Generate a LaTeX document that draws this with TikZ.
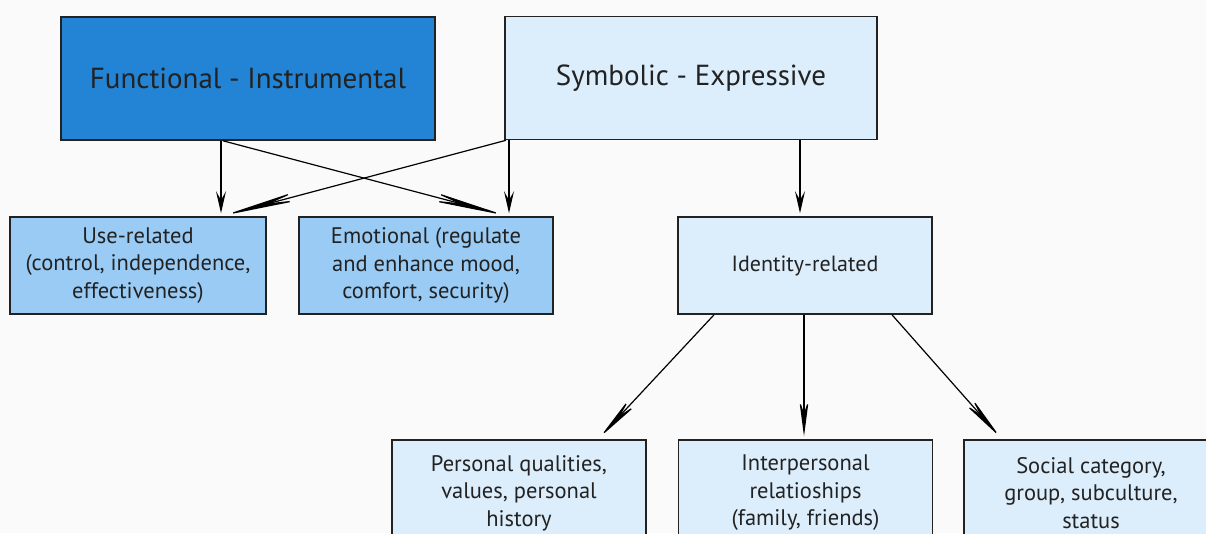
\documentclass[tikz,border=0pt]{standalone}
\usepackage{fontspec}
\setmainfont{PT Sans}
\usetikzlibrary{arrows.meta,positioning}

\definecolor{deepblue}{HTML}{2383D4}
\definecolor{midblue}{HTML}{99CBF4}
\definecolor{paleblue}{HTML}{DCEDFB}
\definecolor{edgegray}{HTML}{222222}
\definecolor{paper}{HTML}{FAFAFA}

\tikzset{
    box/.style={draw=edgegray,line width=1.6pt,align=center,inner sep=0pt,text=edgegray},
    bigbox/.style={box,minimum width=374pt,minimum height=123pt,font=\fontsize{29}{34}\selectfont},
    smallbox/.style={box,minimum width=254pt,minimum height=97pt,font=\fontsize{22.5}{27.5}\selectfont},
    arr/.style={-{Stealth[length=#1,width=10pt,inset=#1*0.4]},line width=1.2pt,shorten >=3pt}
}

\begin{document}
\begin{tikzpicture}[x=1pt,y=1pt]
    \clip (0,0) rectangle (1206,-533);
    \fill[paper] (0,0) rectangle (1206,-533);
    % top row
    \node[bigbox,fill=deepblue] (func) at (248,-78.5) {Functional - Instrumental};
    \node[bigbox,fill=paleblue,minimum width=372pt] (symb) at (691,-78) {Symbolic - Expressive};
    % middle row
    \node[smallbox,fill=midblue,minimum width=256pt] (use) at (138,-265.5) {Use-related\\(control, independence,\\effectiveness)};
    \node[smallbox,fill=midblue] (emo) at (426,-265.5) {Emotional (regulate\\and enhance mood,\\comfort, security)};
    \node[smallbox,fill=paleblue,font=\fontsize{22}{27}\selectfont] (ident) at (805,-265.5) {Identity-related};
    % bottom row
    \node[smallbox,fill=paleblue,minimum height=106pt] (pers) at (519,-493) {Personal qualities,\\values, personal\\history};
    \node[smallbox,fill=paleblue,minimum height=106pt] (inter) at (805.5,-493) {Interpersonal\\relatioships\\(family, friends)};
    \node[smallbox,fill=paleblue,minimum height=106pt] (soc) at (1091,-493) {Social category,\\group, subculture,\\status};
    % arrows
    \draw[arr=22pt] ([xshift=-27pt]func.south) -- ([xshift=83pt]use.north);
    \draw[arr=80pt] ([xshift=-25pt]func.south) -- ([xshift=82pt]emo.north);
    \draw[arr=22pt] ([xshift=-182pt]symb.south) -- ([xshift=83pt]emo.north);
    \draw[arr=80pt] ([xshift=-185pt]symb.south) -- ([xshift=83pt]use.north);
    \draw[arr=22pt] ([xshift=109pt]symb.south) -- ([xshift=-5pt]ident.north);
    \draw[arr=50pt] ([xshift=-91pt]ident.south) -- ([xshift=79pt]pers.north);
    \draw[arr=38pt] ([xshift=-1pt]ident.south) -- ([xshift=-1.5pt]inter.north);
    \draw[arr=50pt] ([xshift=87pt]ident.south) -- ([xshift=-89pt]soc.north);
\end{tikzpicture}
\end{document}
